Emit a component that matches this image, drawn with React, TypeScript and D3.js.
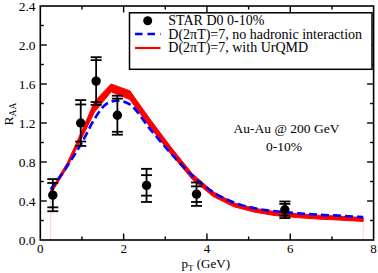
import React from "react";
import * as d3 from "d3";

// STAR D0 0-10% data
const starPt = [0.3, 0.97, 1.34, 1.85, 2.55, 3.75, 5.87];
const starRaa = [0.46, 1.2, 1.63, 1.28, 0.56, 0.47, 0.31];
const starStat = [0.125, 0.19, 0.215, 0.17, 0.105, 0.08, 0.06];
const starSys = [0.165, 0.235, 0.245, 0.2, 0.17, 0.12, 0.085];

// D(2πT)=7, with UrQMD (band)
const redPt = [0.25, 0.65, 0.85, 1.07, 1.3, 1.7, 2.15, 2.65, 3.15, 3.65, 4.15, 4.65, 5.15, 5.65, 6.15, 6.65, 7.15, 7.75];
const redLo = [0.47, 0.745, 0.92, 1.11, 1.31, 1.52, 1.44, 1.15, 0.875, 0.62, 0.445, 0.34, 0.285, 0.25, 0.23, 0.215, 0.205, 0.19];
const redHi = [0.51, 0.795, 0.98, 1.19, 1.42, 1.6, 1.53, 1.23, 0.945, 0.68, 0.495, 0.38, 0.325, 0.29, 0.27, 0.255, 0.245, 0.23];

// D(2πT)=7, no hadronic interaction
const bluePt = [0.25, 0.65, 1.0, 1.3, 1.6, 1.85, 2.15, 2.65, 3.15, 3.65, 4.15, 4.65, 5.15, 5.65, 6.15, 6.65, 7.15, 7.75];
const blueRaa = [0.52, 0.76, 1.0, 1.24, 1.4, 1.43, 1.39, 1.13, 0.88, 0.66, 0.49, 0.385, 0.325, 0.295, 0.275, 0.26, 0.25, 0.235];

const xTicks = [0, 2, 4, 6, 8];
const xMinor = [1, 3, 5, 7];
const yTicks = [0, 0.4, 0.8, 1.2, 1.6, 2.0, 2.4];
const yMinor = [0.2, 0.6, 1.0, 1.4, 1.8, 2.2];

const legendLabels = ["STAR D0 0-10%", "D(2\u03c0T)=7, no hadronic interaction", "D(2\u03c0T)=7, with UrQMD"];

const W = 378;
const H = 273;
const L = 40.3, R = 373.6, T = 6, B = 240;
const font = "'Liberation Serif', 'DejaVu Serif', serif";

export default function App() {
  const x = d3.scaleLinear().domain([0, 8]).range([L, R]);
  const y = d3.scaleLinear().domain([0, 2.4]).range([B, T]);

  const bandIdx = d3.range(redPt.length);
  const area = d3
    .area<number>()
    .x((i) => x(redPt[i]))
    .y0((i) => y(redLo[i]))
    .y1((i) => y(redHi[i]))
    .curve(d3.curveLinear);
  const blueLine = d3
    .line<number>()
    .x((i) => x(bluePt[i]))
    .y((i) => y(blueRaa[i]))
    .curve(d3.curveMonotoneX);

  const capW = 5.5;
  const last = redPt.length - 1;

  return (
    <svg width={W} height={H} style={{ position: "absolute", left: 0, top: 0, background: "#fff" }}>
      {/* faint band edges */}
      <line x1={x(redPt[0])} x2={x(redPt[0])} y1={B} y2={y(redLo[0])} stroke="#ffc8c8" strokeWidth={0.8} />
      <line x1={x(redPt[last])} x2={x(redPt[last])} y1={B} y2={y(redLo[last])} stroke="#ffc8c8" strokeWidth={0.8} />

      <path d={area(bandIdx) || ""} fill="#ff0000" stroke="#ff0000" strokeWidth={1} strokeLinejoin="round" />
      <path
        d={blueLine(d3.range(bluePt.length)) || ""}
        fill="none"
        stroke="#0000ff"
        strokeWidth={2.6}
        strokeDasharray="8,4"
      />

      {/* data points */}
      {starPt.map((p, i) => {
        const cx = x(p);
        return (
          <g key={i} stroke="#000" strokeWidth={1.8}>
            <line x1={cx} x2={cx} y1={y(starRaa[i] + starSys[i])} y2={y(starRaa[i] - starSys[i])} />
            {[starRaa[i] + starSys[i], starRaa[i] - starSys[i], starRaa[i] + starStat[i], starRaa[i] - starStat[i]].map((v, j) => (
              <line key={j} x1={cx - capW} x2={cx + capW} y1={y(v)} y2={y(v)} />
            ))}
            <circle cx={cx} cy={y(starRaa[i])} r={4.7} fill="#000" stroke="none" />
          </g>
        );
      })}

      {/* frame */}
      <rect x={L} y={T} width={R - L} height={B - T} fill="none" stroke="#000" strokeWidth={1.6} />
      {xTicks.slice(1, -1).map((t) => (
        <g key={"xt" + t} stroke="#000" strokeWidth={1.4}>
          <line x1={x(t)} x2={x(t)} y1={B} y2={B - 6.5} />
          <line x1={x(t)} x2={x(t)} y1={T} y2={T + 6.5} />
        </g>
      ))}
      {xMinor.map((t) => (
        <g key={"xm" + t} stroke="#000" strokeWidth={1.4}>
          <line x1={x(t)} x2={x(t)} y1={B} y2={B - 3.5} />
          <line x1={x(t)} x2={x(t)} y1={T} y2={T + 3.5} />
        </g>
      ))}
      {yTicks.slice(1, -1).map((t) => (
        <g key={"yt" + t} stroke="#000" strokeWidth={1.4}>
          <line x1={L} x2={L + 6.5} y1={y(t)} y2={y(t)} />
          <line x1={R} x2={R - 6.5} y1={y(t)} y2={y(t)} />
        </g>
      ))}
      {yMinor.map((t) => (
        <g key={"ym" + t} stroke="#000" strokeWidth={1.4}>
          <line x1={L} x2={L + 3.5} y1={y(t)} y2={y(t)} />
          <line x1={R} x2={R - 3.5} y1={y(t)} y2={y(t)} />
        </g>
      ))}

      {/* tick labels */}
      {yTicks.map((t) => (
        <text key={"yl" + t} x={35.5} y={y(t) + 4.8} textAnchor="end" fontFamily={font} fontSize={13.5} fill="#000">
          {t.toFixed(1)}
        </text>
      ))}
      {xTicks.map((t) => (
        <text key={"xl" + t} x={x(t)} y={252.5} textAnchor="middle" fontFamily={font} fontSize={13} fill="#000">
          {t}
        </text>
      ))}

      {/* axis titles */}
      <text x={181.5} y={267.5} fontFamily={font} fontSize={13} fill="#000">
        p<tspan fontSize={9} dy={3}>T</tspan>
        <tspan dy={-3}> (GeV)</tspan>
      </text>
      <text transform="translate(12.5,125.5) rotate(-90)" fontFamily={font} fontSize={13.5} fill="#000">
        R<tspan fontSize={9.5} dy={3}>AA</tspan>
      </text>

      {/* annotation */}
      <text x={286.5} y={132.5} textAnchor="middle" fontFamily={font} fontSize={13.5} fill="#000">
        Au-Au @ 200 GeV
      </text>
      <text x={284} y={151} textAnchor="middle" fontFamily={font} fontSize={13.5} fill="#000">
        0-10%
      </text>

      {/* legend */}
      <rect x={129.5} y={12.8} width={242.5} height={56.5} fill="#fff" stroke="#000" strokeWidth={1.5} />
      <circle cx={147.7} cy={20.7} r={4.5} fill="#000" />
      <line x1={135} x2={160.5} y1={34} y2={34} stroke="#0000ff" strokeWidth={2.4} strokeDasharray="7.5,5" />
      <line x1={135} x2={160.5} y1={48} y2={48} stroke="#ff0000" strokeWidth={2.2} />
      {legendLabels.map((s, i) => (
        <text key={s} x={168.3} y={25 + i * 13.5} fontFamily={font} fontSize={14} fill="#000">
          {s}
        </text>
      ))}
    </svg>
  );
}
